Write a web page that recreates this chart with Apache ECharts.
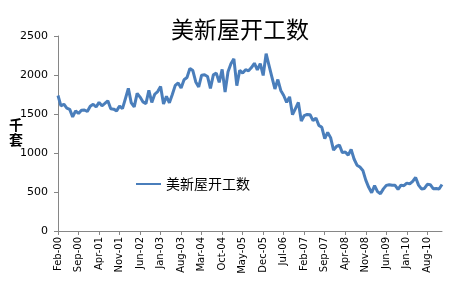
<!DOCTYPE html>
<html><head><meta charset="utf-8">
<script src="https://cdn.jsdelivr.net/npm/echarts@6/dist/echarts.min.js"></script>
<style>html,body{margin:0;padding:0;background:#fff}#c{width:450px;height:300px}</style>
</head><body><div id="c"></div>
<script>
const titleText = "美新屋开工数";
const seriesName = "美新屋开工数";
const yAxisName = "千套";
const monthNames = ["Jan","Feb","Mar","Apr","May","Jun","Jul","Aug","Sep","Oct","Nov","Dec"];
// Feb-00 .. Jan-11
const categories = [];
for (let i = 0; i < 132; i++) {
  const m = (1 + i) % 12, y = Math.floor((1 + i) / 12);
  categories.push(monthNames[m] + "-" + String(y).padStart(2, "0"));
}
const starts2000 = [1737,1604,1626,1575,1559,1463,1541,1507,1549,1551,1532];
const starts2001 = [1600,1625,1590,1649,1605,1636,1670,1567,1562,1540,1602,1568];
const starts2002 = [1698,1829,1642,1592,1764,1717,1655,1633,1804,1648,1753,1788];
const starts2003 = [1853,1629,1726,1643,1751,1867,1897,1833,1939,1967,2083,2057];
const starts2004 = [1911,1846,1998,2003,1981,1828,2002,2024,1905,2072,1782,2042];
const starts2005 = [2144,2207,1864,2061,2025,2068,2054,2095,2151,2065,2147,1994];
const starts2006 = [2273,2119,1969,1821,1942,1802,1737,1650,1720,1491,1570,1649];
const starts2007 = [1409,1480,1495,1490,1415,1448,1354,1330,1183,1264,1197,1037];
const starts2008 = [1084,1103,1005,1013,973,1046,923,844,820,777,652,560];
const starts2009 = [490,582,505,478,540,585,594,586,585,534,588,581];
const starts2010 = [614,604,636,687,588,539,546,599,594,543,545,539];
const starts2011 = [596];
const values = [].concat(starts2000,starts2001,starts2002,starts2003,starts2004,starts2005,
  starts2006,starts2007,starts2008,starts2009,starts2010,starts2011);

const chart = echarts.init(document.getElementById('c'), null, {renderer:'canvas'});
chart.setOption({
  animation:false,
  backgroundColor:'#fff',
  title:{text:titleText,left:235,textAlign:'center',top:13,
    textStyle:{fontFamily:'Noto Sans CJK SC',fontSize:23,fontWeight:'normal',color:'#000'}},
  legend:{left:131,top:172,itemWidth:25,itemHeight:2,itemGap:2,icon:'rect',
    data:[{name:seriesName,icon:'rect'}],
    textStyle:{fontFamily:'Noto Sans CJK SC',fontSize:14,color:'#000'}},
  graphic:[{type:'text',left:9,top:117,style:{text:yAxisName.split('').join('\n'),font:'bold 14px "Noto Sans CJK SC"',fill:'#000',lineHeight:15}}],
  grid:{left:58,right:8,top:36,bottom:69},
  xAxis:{type:'category',data:categories,boundaryGap:false,
    axisLine:{lineStyle:{color:'#868686',width:1}},
    axisTick:{interval:6,length:4,lineStyle:{color:'#868686'}},
    axisLabel:{interval:6,rotate:90,fontFamily:'DejaVu Sans',fontSize:10,color:'#000',margin:6}},
  yAxis:{type:'value',min:0,max:2500,interval:500,
    axisLine:{show:true,lineStyle:{color:'#868686',width:1}},
    axisTick:{show:true,length:4,lineStyle:{color:'#868686'}},
    splitLine:{show:false},
    axisLabel:{fontFamily:'DejaVu Sans',fontSize:11,color:'#000',margin:10,formatter:function(v){return String(v);}}},
  series:[{name:seriesName,type:'line',data:values,showSymbol:false,symbol:'none',
    lineStyle:{color:'#4a7ebb',width:3},itemStyle:{color:'#4a7ebb'}}]
});
</script></body></html>
